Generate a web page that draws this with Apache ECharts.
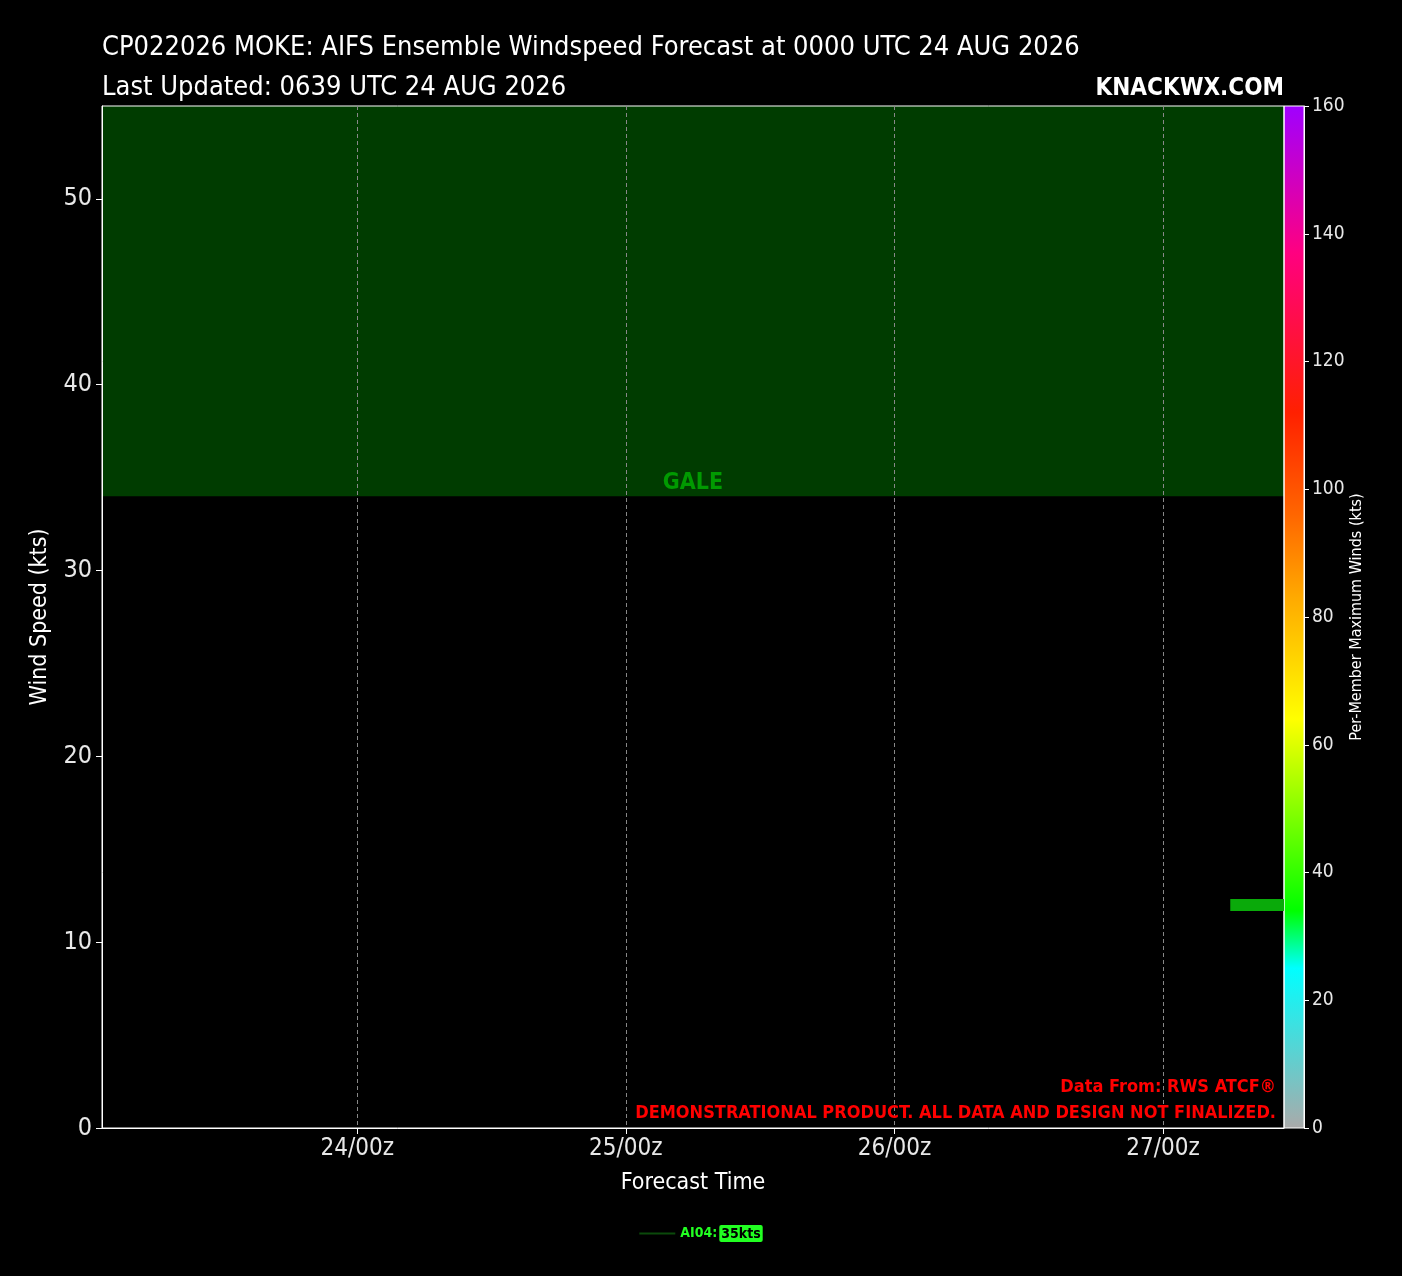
<!DOCTYPE html>
<html>
<head>
<meta charset="utf-8">
<script src="https://cdn.jsdelivr.net/npm/echarts@6/dist/echarts.min.js"></script>
<style>
html,body{margin:0;padding:0;background:#000;}
#chart{width:1402px;height:1276px;}
</style>
</head>
<body>
<div id="chart"></div>
<script>
// ---- data ----
const titleLine1 = 'CP022026 MOKE: AIFS Ensemble Windspeed Forecast at 0000 UTC 24 AUG 2026';
const titleLine2 = 'Last Updated: 0639 UTC 24 AUG 2026';
const tickHours = [0, 24, 48, 72];          // hours from 24/00z
const tickLabels = ['24/00z', '25/00z', '26/00z', '27/00z'];
const xMinHour = -22.8, xMaxHour = 82.8;
const yMax = 55;
const galeThreshold = 34;
const memberName = 'AI04';
const memberMaxWind = 35;
const memberHours = [78, 82.8];
const memberWinds = [12, 12];
const cbarTicks = [0, 20, 40, 60, 80, 100, 120, 140, 160];
const cbarStops = [0, 25, 34, 64, 83, 96, 112, 137, 160];
const cbarColors = ['#aaaaaa', '#00ffff', '#00ff00', '#ffff00', '#ffaa00', '#ff6600', '#ff2000', '#ff0080', '#a000ff'];

const FONT = "'DejaVu Sans Condensed','Liberation Sans Narrow',sans-serif";
const chart = echarts.init(document.getElementById('chart'));
const cbMax = cbarTicks[cbarTicks.length - 1];
const grad = new echarts.graphic.LinearGradient(0, 0, 0, 1,
  cbarStops.map((v, i) => ({offset: 1 - v / cbMax, color: cbarColors[i]})).reverse());

chart.setOption({
  backgroundColor: '#000',
  animation: false,
  title: [
    {text: titleLine1, left: 97, top: 29, textStyle: {color: '#fff', fontFamily: FONT, fontSize: 27, fontWeight: 'normal'}},
    {text: titleLine2, left: 97, top: 69, textStyle: {color: '#fff', fontFamily: FONT, fontSize: 27, fontWeight: 'normal'}},
    {text: 'KNACKWX.COM', right: 113, top: 72, textStyle: {color: '#fff', fontFamily: FONT, fontSize: 24, fontWeight: 'bold'}},
    {text: 'Data From: RWS ATCF®', right: 121, top: 1073, textStyle: {color: '#ff0000', fontFamily: FONT, fontSize: 18, fontWeight: 'bold'}},
    {text: 'DEMONSTRATIONAL PRODUCT. ALL DATA AND DESIGN NOT FINALIZED.', right: 121, top: 1099, textStyle: {color: '#ff0000', fontFamily: FONT, fontSize: 18, fontWeight: 'bold'}}
  ],
  legend: {
    bottom: 29, left: 'center',
    itemWidth: 36, itemHeight: 2, itemGap: 20,
    data: [{name: memberName, icon: 'rect', itemStyle: {color: '#0b4a0b'}}],
    formatter: n => '{a|' + n + ':}{b|' + memberMaxWind + 'kts}',
    textStyle: {
      fontFamily: FONT,
      rich: {
        a: {color: '#22ff22', fontWeight: 'bold', fontSize: 14, fontFamily: FONT, padding: [0, 2, 0, 0]},
        b: {color: '#000', backgroundColor: '#22ff22', fontWeight: 'bold', fontSize: 14, fontFamily: FONT, padding: [2, 2, 1, 2], borderRadius: 2}
      }
    }
  },
  grid: [
    {left: 102, right: 118, top: 106, bottom: 148, show: true, borderColor: '#fff', borderWidth: 1, backgroundColor: 'transparent'},
    {left: 1284, width: 20, top: 106, bottom: 148, show: true, borderColor: '#fff', borderWidth: 1, backgroundColor: 'transparent'}
  ],
  xAxis: [
    {
      type: 'value', gridIndex: 0, min: xMinHour, max: xMaxHour,
      name: 'Forecast Time', nameLocation: 'middle', nameGap: 44,
      nameTextStyle: {color: '#fff', fontFamily: FONT, fontSize: 23},
      axisLine: {onZero: false, lineStyle: {color: '#fff'}},
      axisTick: {show: true, length: 6, lineStyle: {color: '#fff'}, customValues: tickHours},
      axisLabel: {color: '#e8e8e8', fontFamily: FONT, fontSize: 24, margin: 9, customValues: tickHours,
        formatter: v => { const i = tickHours.indexOf(v); return i >= 0 ? tickLabels[i] : ''; }},
      splitLine: {show: true, lineStyle: {color: '#888', type: [4, 3], width: 1}}
    },
    {type: 'category', gridIndex: 1, data: ['cb'], show: false}
  ],
  yAxis: [
    {
      type: 'value', gridIndex: 0, min: 0, max: yMax, interval: 10,
      name: 'Wind Speed (kts)', nameLocation: 'middle', nameGap: 50, nameRotate: 90,
      nameTextStyle: {color: '#fff', fontFamily: FONT, fontSize: 23},
      axisLine: {show: true, onZero: false, lineStyle: {color: '#fff'}},
      axisTick: {show: true, length: 6, lineStyle: {color: '#fff'}},
      axisLabel: {color: '#e8e8e8', fontFamily: FONT, fontSize: 25, margin: 10, showMaxLabel: false},
      splitLine: {show: false}
    },
    {
      type: 'value', gridIndex: 1, min: 0, max: cbMax, interval: 20, position: 'right',
      name: 'Per-Member Maximum Winds (kts)', nameLocation: 'middle', nameGap: 45, nameRotate: 90,
      nameTextStyle: {color: '#fff', fontFamily: FONT, fontSize: 16},
      axisLine: {show: true, onZero: false, lineStyle: {color: '#fff'}},
      axisTick: {show: true, length: 5, lineStyle: {color: '#fff'}},
      axisLabel: {color: '#e8e8e8', fontFamily: FONT, fontSize: 19, margin: 8},
      splitLine: {show: false}
    }
  ],
  series: [
    {
      name: '_gale', type: 'line', xAxisIndex: 0, yAxisIndex: 0, data: [], silent: true, z: -2,
      markArea: {
        silent: true, z: -2,
        itemStyle: {color: '#003c00'},
        label: {show: true, position: 'insideBottom', distance: 2, color: '#019a01', fontFamily: FONT, fontSize: 23, fontWeight: 'bold'},
        data: [[{yAxis: galeThreshold, name: 'GALE'}, {yAxis: yMax}]]
      }
    },
    {
      name: memberName, type: 'line', xAxisIndex: 0, yAxisIndex: 0,
      data: memberHours.map((h, i) => [h, memberWinds[i]]),
      symbol: 'none', clip: true,
      lineStyle: {color: '#0aaa0a', width: 12, cap: 'butt'},
      itemStyle: {color: '#0b4a0b'}
    },
    {
      name: '_cbar', type: 'bar', xAxisIndex: 1, yAxisIndex: 1, data: [cbMax], barWidth: '100%', z: -2,
      itemStyle: {color: grad}, silent: true
    }
  ]
});
</script>
</body>
</html>
